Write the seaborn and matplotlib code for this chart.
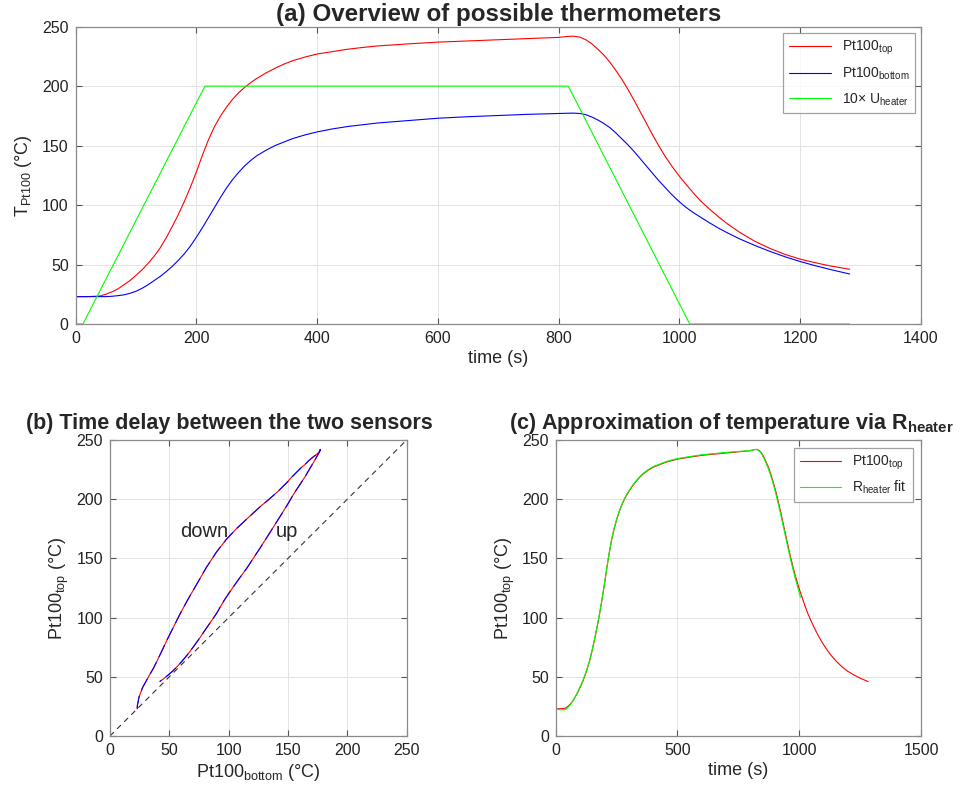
import numpy as np
import pandas as pd
import matplotlib
matplotlib.use('Agg')
import matplotlib.pyplot as plt
import seaborn as sns

# time axis (s) and readings of the two Pt100 sensors (deg C)
time_s = [0, 20, 40,
          50, 60, 70, 80, 90, 100, 110, 120, 130, 140, 150, 160, 170, 180, 190, 200,
          210, 220, 230, 240, 250, 260, 270, 280, 290, 300,
          315, 330, 345, 360, 380, 400, 425, 450, 475, 500,
          550, 600, 650, 700, 750, 800, 815, 825,
          835, 845, 855, 865, 875, 885, 895, 905, 915, 925, 935, 945, 955, 965, 975, 985, 995, 1005,
          1015, 1025, 1035, 1050, 1065, 1080,
          1100, 1125, 1150, 1175, 1200, 1225, 1250, 1282]
pt100_top = [23, 23, 23.5,
             25, 27, 29.5, 33, 36.5, 41, 45.5, 51, 57, 64, 72.5, 82, 92, 103, 115, 128,
             142, 155, 166, 175, 182.5, 189, 194.5, 199, 203, 206.5,
             211, 215, 218.5, 221.5, 224.5, 227, 229, 231, 232.5, 233.8,
             235.5, 237, 238, 239, 240, 241, 241.8, 242,
             241.2, 239, 235.5, 231, 226, 220, 213, 205.5, 197, 188, 178.5, 169, 159.5, 150.5, 142, 134.5, 127.5, 121,
             115, 109, 103.5, 96.5, 90, 84,
             77, 69.5, 63.5, 58.5, 54.5, 51.5, 48.8, 46]
pt100_bottom = [23, 23, 23,
                23, 23.3, 23.8, 24.5, 25.8, 27.5, 30, 33, 36.5, 40, 44, 48.5, 53.5, 59, 65.5, 73,
                81, 89.5, 98, 106.5, 114.5, 121.5, 127.5, 133, 137.5, 141.5,
                146, 150, 153, 156, 159, 161.5, 164, 166, 167.5, 169,
                171, 173, 174.3, 175.3, 176.3, 177, 177.2, 177.3,
                177, 176, 174, 171.5, 168.5, 165, 160.5, 155.5, 150.5, 145, 139, 133, 127, 121, 115.5, 110, 105, 100.5,
                96.5, 93, 89.8, 85, 80.5, 76.5,
                71.5, 66, 61, 56.5, 52.5, 49, 45.8, 42]

# heater voltage x10
heater_time = [0, 12, 214, 816, 1017, 1282]
heater_10u = [0, 0, 200, 200, 0, 0]

# temperature estimated from R_heater (fit ends near 1005 s)
fit_time = [0, 20, 40,
            50, 60, 70, 80, 90, 100, 110, 120, 130, 140, 150, 160, 170, 180, 190, 200,
            210, 220, 230, 240, 250, 260, 270, 280, 290, 300,
            315, 330, 345, 360, 380, 400, 425, 450, 475, 500,
            550, 600, 650, 700, 750, 800, 815, 825,
            835, 845, 855, 865, 875, 885, 895, 905, 915, 925, 935, 945, 955, 965, 975, 985, 995, 1005]
r_heater_fit = [23, 22, 22.3,
                24, 26.5, 29.5, 33, 37, 41.5, 46, 51.5, 57.5, 64.5, 73, 82.5, 92.5, 103.5, 115.5, 128.5,
                142, 155, 166.5, 175.5, 183, 189.5, 195, 199.5, 203.5, 207,
                211.5, 215.5, 219, 222, 225, 227.5, 229.5, 231.5, 233, 234.3,
                236, 237.5, 238.5, 239.5, 240.3, 241, 241.8, 242,
                240.8, 238.5, 234.5, 230, 224.5, 218.5, 211.5, 203.5, 195, 186, 176.5, 167, 157.5, 148.5, 140, 132, 124.5, 117]

sns.set_theme(style='whitegrid')
plt.rcParams['font.family'] = ['Liberation Sans', 'DejaVu Sans']
plt.rcParams['mathtext.fontset'] = 'custom'
plt.rcParams['mathtext.rm'] = 'Liberation Sans'
plt.rcParams['mathtext.it'] = 'Liberation Sans:italic'
plt.rcParams['mathtext.bf'] = 'Liberation Sans:bold'
plt.rcParams['mathtext.default'] = 'rm'

df = pd.DataFrame({'time': time_s, 'top': pt100_top, 'bottom': pt100_bottom})
heater = pd.DataFrame({'time': heater_time, 'u': heater_10u})
fit = pd.DataFrame({'time': fit_time, 'fit': r_heater_fit})

fig = plt.figure(figsize=(9.69, 7.96), dpi=100)
ax_a = fig.add_axes([0.0781, 0.5930, 0.8723, 0.3735])
ax_b = fig.add_axes([0.1135, 0.0754, 0.3062, 0.3719])
ax_c = fig.add_axes([0.5735, 0.0754, 0.3770, 0.3719])

lw = 0.8
tick_fs = 11.5
label_fs = 13

def style_axes(ax):
    ax.set_facecolor('white')
    for s in ax.spines.values():
        s.set_color('#8a8a8a')
        s.set_linewidth(0.9)
    ax.grid(True, color='#e3e3e3', linewidth=0.7)
    ax.tick_params(direction='in', length=4, width=0.8, color='#555555',
                   top=True, right=True, bottom=True, left=True,
                   labelsize=tick_fs, labelcolor='#222222', pad=5)

# (a)
sns.lineplot(data=df, x='time', y='top', color='#ff0000', lw=lw, ax=ax_a,
             label='Pt100$_{top}$', estimator=None)
sns.lineplot(data=df, x='time', y='bottom', color='#0000ff', lw=lw, ax=ax_a,
             label='Pt100$_{bottom}$', estimator=None)
sns.lineplot(data=heater, x='time', y='u', color='#00ff00', lw=lw, ax=ax_a,
             label='10× U$_{heater}$', estimator=None)
ax_a.set_xlim(0, 1400)
ax_a.set_ylim(0, 250)
ax_a.set_xticks(range(0, 1401, 200))
ax_a.set_yticks(range(0, 251, 50))
ax_a.set_xlabel('time (s)', fontsize=label_fs, labelpad=3)
ax_a.set_ylabel('T$_{Pt100}$ (°C)', fontsize=label_fs, labelpad=6)
ax_a.set_title('(a) Overview of possible thermometers', fontsize=17.4,
               fontweight='bold', pad=4)
style_axes(ax_a)
leg = ax_a.legend(loc='upper right', fontsize=10, frameon=True, fancybox=False,
                  edgecolor='#8a8a8a', handlelength=3, borderaxespad=0.45,
                  labelspacing=0.65)
leg.get_frame().set_linewidth(0.9)

# (b)  red/blue alternating trace of top vs bottom
n0 = len(ax_b.lines)
sns.lineplot(x=[0, 250], y=[0, 250], color='#333333', lw=0.8, ax=ax_b, estimator=None)
for ln in ax_b.lines[n0:]:
    ln.set_linestyle((0, (5, 4)))
sns.lineplot(data=df, x='bottom', y='top', sort=False, color='#ff0000', lw=lw,
             ax=ax_b, estimator=None)
n1 = len(ax_b.lines)
sns.lineplot(data=df, x='bottom', y='top', sort=False, color='#0000ff', lw=lw,
             ax=ax_b, estimator=None)
for ln in ax_b.lines[n1:]:
    ln.set_linestyle((0, (12, 5)))
ax_b.text(59, 168, 'down', fontsize=14.5)
ax_b.text(140, 168, 'up', fontsize=14.5)
ax_b.set_xlim(0, 250)
ax_b.set_ylim(0, 250)
ax_b.set_xticks(range(0, 251, 50))
ax_b.set_yticks(range(0, 251, 50))
ax_b.set_xlabel('Pt100$_{bottom}$ (°C)', fontsize=label_fs, labelpad=3)
ax_b.set_ylabel('Pt100$_{top}$ (°C)', fontsize=label_fs, labelpad=4)
ax_b.set_title('(b) Time delay between the two sensors', fontsize=15.5,
               fontweight='bold', pad=8, x=0.403)
style_axes(ax_b)

# (c)
sns.lineplot(data=df, x='time', y='top', color='#ff0000', lw=lw, ax=ax_c,
             label='Pt100$_{top}$', estimator=None)
sns.lineplot(data=fit, x='time', y='fit', color='#00ff00', lw=lw, ax=ax_c,
             label='R$_{heater}$ fit', estimator=None)
ax_c.set_xlim(0, 1500)
ax_c.set_ylim(0, 250)
ax_c.set_xticks(range(0, 1501, 500))
ax_c.set_yticks(range(0, 251, 50))
ax_c.set_xlabel('time (s)', fontsize=label_fs, labelpad=3)
ax_c.set_ylabel('Pt100$_{top}$ (°C)', fontsize=label_fs, labelpad=4)
ax_c.set_title('(c) Approximation of temperature via R$\\mathbf{_{heater}}$',
               fontsize=15.5, fontweight='bold', pad=8, x=0.48)
style_axes(ax_c)
leg = ax_c.legend(loc='upper right', fontsize=10, frameon=True, fancybox=False,
                  edgecolor='#8a8a8a', handlelength=3, borderaxespad=0.6,
                  labelspacing=0.5)
leg.get_frame().set_linewidth(0.9)

fig.savefig('out.png', dpi=100, facecolor='white')
